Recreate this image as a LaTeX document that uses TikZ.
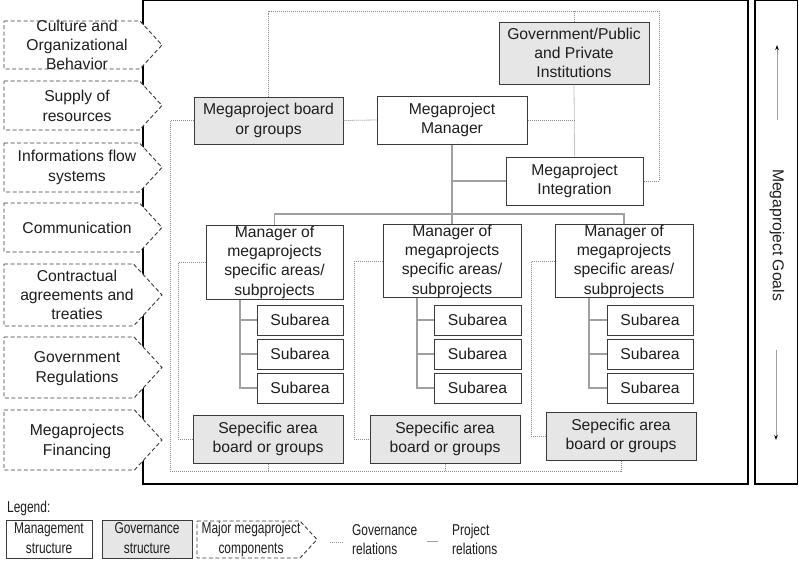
\documentclass[tikz,border=0pt]{standalone}
\usepackage{fontspec}
\setmainfont{Liberation Sans}
\usetikzlibrary{arrows.meta}
\definecolor{boxgray}{HTML}{E6E6E6}
\definecolor{edgec}{HTML}{3A3A3A}
\definecolor{projc}{HTML}{A0A0A0}
\definecolor{govc}{HTML}{8C8C8C}
\definecolor{txt}{HTML}{1E1E1E}
\newcommand{\legtxt}[2]{\scalebox{0.76}[1]{\begin{tabular}{@{}#1@{}}#2\end{tabular}}}
\begin{document}
\begin{tikzpicture}[x=1pt,y=-1pt,
 every node/.style={font=\fontsize{15.7}{19.3}\selectfont, text=txt, align=center},
 mbox/.style={draw=edgec, line width=1pt, fill=white, inner sep=0pt},
 gbox/.style={mbox, fill=boxgray},
 chev/.style={draw=edgec, line width=0.9pt, dash pattern=on 4pt off 2.5pt, fill=white},
 proj/.style={draw=projc, line width=1.2pt},
 gov/.style={draw=govc, line width=0.8pt, dash pattern=on 1pt off 1pt},
 frame/.style={draw=black, line width=1.3pt},
 plain/.style={inner sep=0pt},
]
\useasboundingbox (0,0) rectangle (799,570);
\fill[white] (0,0) rectangle (799,570);

% frames
\draw[frame] (143,0.7) rectangle (748,484);
\draw[frame] (755,0.7) rectangle (797.5,484);

% goals
\node[rotate=-90, plain] (goals) at (777,235) {Megaproject Goals};
\coordinate (gu1) at (777,120); \coordinate (gu2) at (777,45);
\coordinate (gd1) at (776,350); \coordinate (gd2) at (776,440);
\draw[draw=projc, line width=1pt, -{Stealth[length=5pt,width=3.5pt,color=black]}] (gu1) -- (gu2);
\draw[draw=projc, line width=1pt, -{Stealth[length=5pt,width=3.5pt,color=black]}] (gd1) -- (gd2);

% chevrons
\draw[chev] (4,21) -- (140,21) -- (162,45) -- (140,69) -- (4,69) -- cycle;
\node[plain] (c1) at (77,45) {Culture and\\Organizational\\Behavior};
\draw[chev] (4,81) -- (139.5,81) -- (162,105.5) -- (139.5,130) -- (4,130) -- cycle;
\node[plain] (c2) at (77,106) {Supply of\\resources};
\draw[chev] (4,143) -- (139.5,143) -- (162,167.5) -- (139.5,192) -- (4,192) -- cycle;
\node[plain] (c3) at (77,167.5) {Informations flow\\systems};
\draw[chev] (4,203) -- (139.5,203) -- (162,227.5) -- (139.5,252) -- (4,252) -- cycle;
\node[plain] (c4) at (77,228) {Communication};
\draw[chev] (4,264) -- (133.5,264) -- (162,295) -- (133.5,326) -- (4,326) -- cycle;
\node[plain] (c5) at (77,295) {Contractual\\agreements and\\treaties};
\draw[chev] (4,337) -- (134,337) -- (162,367.5) -- (134,398) -- (4,398) -- cycle;
\node[plain] (c6) at (77,368.5) {Government\\Regulations};
\draw[chev] (4,410) -- (134.5,410) -- (162,440) -- (134.5,470) -- (4,470) -- cycle;
\node[plain] (c7) at (77,441.5) {Megaprojects\\Financing};

% main nodes
\node[gbox, minimum width=149, minimum height=47] (board) at (268.5,120.5) {Megaproject board\\or groups};
\node[mbox, minimum width=150, minimum height=48] (mgr) at (452,120) {Megaproject\\Manager};
\node[gbox, minimum width=150, minimum height=62] (gov) at (574,53) {Government/Public\\and Private\\Institutions};
\node[mbox, minimum width=137, minimum height=48] (integ) at (574.5,181) {Megaproject\\Integration};

\node[mbox, minimum width=137, minimum height=74] (m1) at (274.5,262) {Manager of\\megaprojects\\specific areas/\\subprojects};
\node[mbox, minimum width=138, minimum height=72] (m2) at (452,261) {Manager of\\megaprojects\\specific areas/\\subprojects};
\node[mbox, minimum width=138, minimum height=72] (m3) at (624,261) {Manager of\\megaprojects\\specific areas/\\subprojects};

\node[mbox, minimum width=86, minimum height=30] (sa11) at (300,320) {Subarea};
\node[mbox, minimum width=86, minimum height=30] (sa12) at (300,354) {Subarea};
\node[mbox, minimum width=86, minimum height=30] (sa13) at (300,388) {Subarea};
\node[mbox, minimum width=87, minimum height=30] (sa21) at (477.5,320) {Subarea};
\node[mbox, minimum width=87, minimum height=30] (sa22) at (477.5,354) {Subarea};
\node[mbox, minimum width=87, minimum height=30] (sa23) at (477.5,388) {Subarea};
\node[mbox, minimum width=86, minimum height=30] (sa31) at (650,320) {Subarea};
\node[mbox, minimum width=86, minimum height=30] (sa32) at (650,354) {Subarea};
\node[mbox, minimum width=86, minimum height=30] (sa33) at (650,388) {Subarea};

\node[gbox, minimum width=150, minimum height=48] (s1) at (268,439) {Sepecific area\\board or groups};
\node[gbox, minimum width=150, minimum height=48] (s2) at (445,439) {Sepecific area\\board or groups};
\node[gbox, minimum width=150, minimum height=48] (s3) at (621,436) {Sepecific area\\board or groups};

% project relations
\coordinate (bar) at (0,214);
\draw[proj] (mgr.south) -- (m2.north);
\draw[proj] (m1.north) -- (m1.north |- bar) -- (m3.north |- bar) -- (m3.north);
\draw[proj] (integ.west) -- (integ.west -| mgr.south);
\coordinate (t1) at (240,0); \coordinate (t2) at (417,0); \coordinate (t3) at (589,0);
\draw[proj] (t1 |- m1.south) |- (sa13.west);
\draw[proj] (t1 |- sa11.west) -- (sa11.west);
\draw[proj] (t1 |- sa12.west) -- (sa12.west);
\draw[proj] (t2 |- m2.south) |- (sa23.west);
\draw[proj] (t2 |- sa21.west) -- (sa21.west);
\draw[proj] (t2 |- sa22.west) -- (sa22.west);
\draw[proj] (t3 |- m3.south) |- (sa33.west);
\draw[proj] (t3 |- sa31.west) -- (sa31.west);
\draw[proj] (t3 |- sa32.west) -- (sa32.west);

% governance relations
\coordinate (gtopL) at (268.5,11);
\coordinate (gtopR) at (659,11);
\draw[gov] (board.north) -- (gtopL) -- (gtopR) |- (integ.east);
\draw[gov] (gov.north) -- (gov.north |- gtopL);
\draw[gov] (gov.south) -- (integ.north);
\draw[gov] (mgr.east) -- (mgr.east -| gov.south);
\draw[gov] (board.east) -- (mgr.west);
\coordinate (gl) at (170,0);
\coordinate (gbot) at (0,471);
\draw[gov] (board.west) -| (gl |- gbot) -| (s3.south);
\draw[gov] (s1.south) -- (s1.south |- gbot);
\draw[gov] (s2.south) -- (s2.south |- gbot);
\coordinate (k1) at (178,0); \coordinate (k2) at (354,0); \coordinate (k3) at (531,0);
\draw[gov] (m1.west) -| (k1 |- s1.west) -- (s1.west);
\draw[gov] (m2.west) -| (k2 |- s2.west) -- (s2.west);
\draw[gov] (m3.west) -| (k3 |- s3.west) -- (s3.west);

% legend
\node[anchor=west, plain] (legtitle) at (7,509) {\legtxt{l}{Legend:}};
\node[mbox, minimum width=86, minimum height=37] (l1) at (49,539.5) {\legtxt{c}{Management\\structure}};
\node[gbox, minimum width=90, minimum height=37] (l2) at (147,539.5) {\legtxt{c}{Governance\\structure}};
\draw[chev] (197,521) -- (300,521) -- (317,539.5) -- (300,558) -- (197,558) -- cycle;
\node[plain] (l3) at (251,539.5) {\legtxt{c}{Major megaproject\\components}};
\coordinate (lg1) at (330,542); \coordinate (lg2) at (343,542);
\draw[gov] (lg1) -- (lg2);
\node[anchor=west, plain] (l4) at (352,541) {\legtxt{l}{Governance\\relations}};
\coordinate (lp1) at (427,541); \coordinate (lp2) at (438,541);
\draw[proj, line width=1pt] (lp1) -- (lp2);
\node[anchor=west, plain] (l5) at (452,541) {\legtxt{l}{Project\\relations}};
\end{tikzpicture}
\end{document}
